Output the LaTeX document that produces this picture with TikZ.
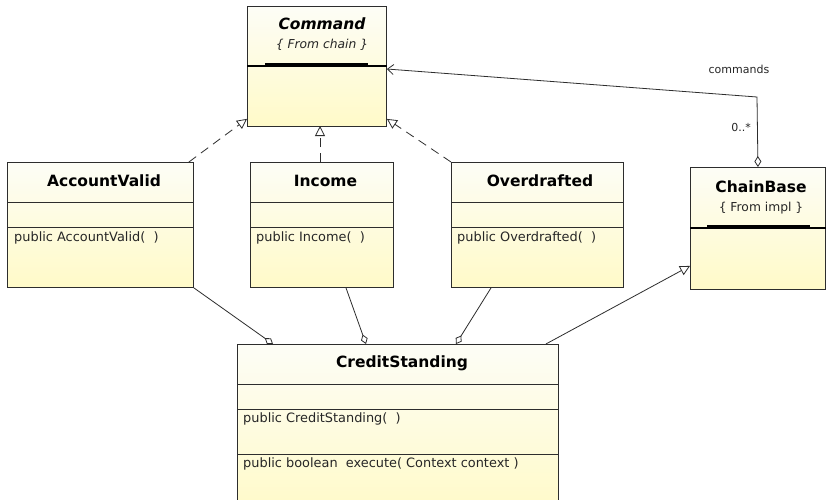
\documentclass[tikz,border=0pt]{standalone}
\usepackage{fontspec}
\setmainfont{DejaVu Sans}
\usetikzlibrary{arrows.meta,calc}
\definecolor{boxtop}{RGB}{253,253,246}
\definecolor{boxbot}{RGB}{255,250,200}
\definecolor{edge}{RGB}{45,45,45}
\tikzset{
  cls/.style={rectangle, draw=edge, line width=0.9pt, top color=boxtop, bottom color=boxbot, anchor=north west, inner sep=0pt},
  ttl/.style={font=\fontsize{15.5}{18}\selectfont\bfseries, text=black, inner sep=0pt},
  subt/.style={font=\fontsize{12.3}{14}\selectfont\itshape, text=black!85, inner sep=0pt},
  meth/.style={font=\fontsize{12.9}{15}\selectfont, text=black!85, anchor=west, inner sep=0pt},
  lbl/.style={font=\fontsize{11}{13}\selectfont, text=black!85, inner sep=0pt},
  sepline/.style={draw=edge, line width=0.9pt},
  thicksep/.style={draw=black, line width=1.8pt},
  realize/.style={draw=edge, line width=0.8pt, dash pattern=on 9pt off 6pt, -{Triangle[open, length=10pt, width=10pt]}},
  general/.style={draw=edge, line width=0.8pt, -{Triangle[open, length=10pt, width=10pt]}},
  aggreg/.style={draw=edge, line width=0.8pt, {Diamond[open, length=10pt, width=7pt]}-},
  assoc/.style={draw=edge, line width=0.8pt, {Diamond[open, length=11pt, width=7pt]}-{Straight Barb[length=6pt, width=10pt]}},
}
\begin{document}
\begin{tikzpicture}[x=1pt, y=-1pt]
\useasboundingbox[fill=white] (0,0) rectangle (826,499);
\begin{scope}
\clip (0,0) rectangle (826,499);

% Command
\node[cls, minimum width=139pt, minimum height=120pt] (cmd) at (247,6) {};
\node[ttl, font=\fontsize{15.5}{18}\selectfont\bfseries\itshape] (cmdt) at (322,24) {Command};
\node[subt] (cmds) at (322,45) {\{ From chain \}};
\draw[thicksep] ($(cmd.north west)+(0,60)$) -- ($(cmd.north east)+(0,60)$);
\fill[black] (265,62.5) rectangle (368,66);

% ChainBase
\node[cls, minimum width=135pt, minimum height=122pt] (cb) at (690,167) {};
\node[ttl] (cbt) at (761,187) {ChainBase};
\node[subt, font=\fontsize{12.3}{14}\selectfont] (cbs) at (761,208) {\{ From impl \}};
\draw[thicksep] ($(cb.north west)+(0,61)$) -- ($(cb.north east)+(0,61)$);
\fill[black] (707,224.5) rectangle (810,228);

% AccountValid
\node[cls, minimum width=186pt, minimum height=125pt] (av) at (7,162) {};
\node[ttl] (avt) at (104,181) {AccountValid};
\draw[sepline] ($(av.north west)+(0,40)$) -- ($(av.north east)+(0,40)$);
\draw[sepline] ($(av.north west)+(0,65)$) -- ($(av.north east)+(0,65)$);
\node[meth] (avm) at (14,238) {public AccountValid(\ \ )};

% Income
\node[cls, minimum width=143pt, minimum height=125pt] (inc) at (250,162) {};
\node[ttl] (inct) at (325.5,181) {Income};
\draw[sepline] ($(inc.north west)+(0,40)$) -- ($(inc.north east)+(0,40)$);
\draw[sepline] ($(inc.north west)+(0,65)$) -- ($(inc.north east)+(0,65)$);
\node[meth] (incm) at (256,238) {public Income(\ \ )};

% Overdrafted
\node[cls, minimum width=172pt, minimum height=125pt] (od) at (451,162) {};
\node[ttl] (odt) at (540,181) {Overdrafted};
\draw[sepline] ($(od.north west)+(0,40)$) -- ($(od.north east)+(0,40)$);
\draw[sepline] ($(od.north west)+(0,65)$) -- ($(od.north east)+(0,65)$);
\node[meth] (odm) at (457,238) {public Overdrafted(\ \ )};

% CreditStanding
\node[cls, minimum width=321pt, minimum height=170pt] (cs) at (237,344) {};
\node[ttl] (cst) at (402,363) {CreditStanding};
\draw[sepline] ($(cs.north west)+(0,40)$) -- ($(cs.north east)+(0,40)$);
\draw[sepline] ($(cs.north west)+(0,65)$) -- ($(cs.north east)+(0,65)$);
\draw[sepline] ($(cs.north west)+(0,110)$) -- ($(cs.north east)+(0,110)$);
\node[meth] (csm1) at (243,419) {public CreditStanding(\ \ )};
\node[meth] (csm2) at (243,464) {public boolean\ \ execute( Context context )};
\end{scope}

% realizations
\draw[realize] ($(av.north east)+(-5,0)$) -- ($(cmd.south west)+(0,-8)$);
\draw[realize] ($(inc.north west)+(70,0)$) -- ($(inc.north west)+(70,-36)$);
\draw[realize] (od.north west) -- ($(cmd.south east)+(0,-8)$);

% generalization
\draw[general] ($(cs.north east)+(-13,0)$) -- ($(cb.south west)+(0,-24)$);

% aggregations
\draw[aggreg] ($(cs.north west)+(36,0)$) -- (av.south east);
\draw[aggreg] ($(cs.north west)+(129,0)$) -- ($(inc.south west)+(96,0)$);
\draw[aggreg] ($(cs.north west)+(219,0)$) -- ($(od.south west)+(40,0)$);

% association
\coordinate (bend) at (757,97);
\draw[assoc] (cb.north) -- (bend) -- ($(cmd.north east)+(0,63)$);
\node[lbl] (lcmds) at (739,69) {commands};
\node[lbl] (lmult) at (741,127) {0..*};
\end{tikzpicture}
\end{document}
